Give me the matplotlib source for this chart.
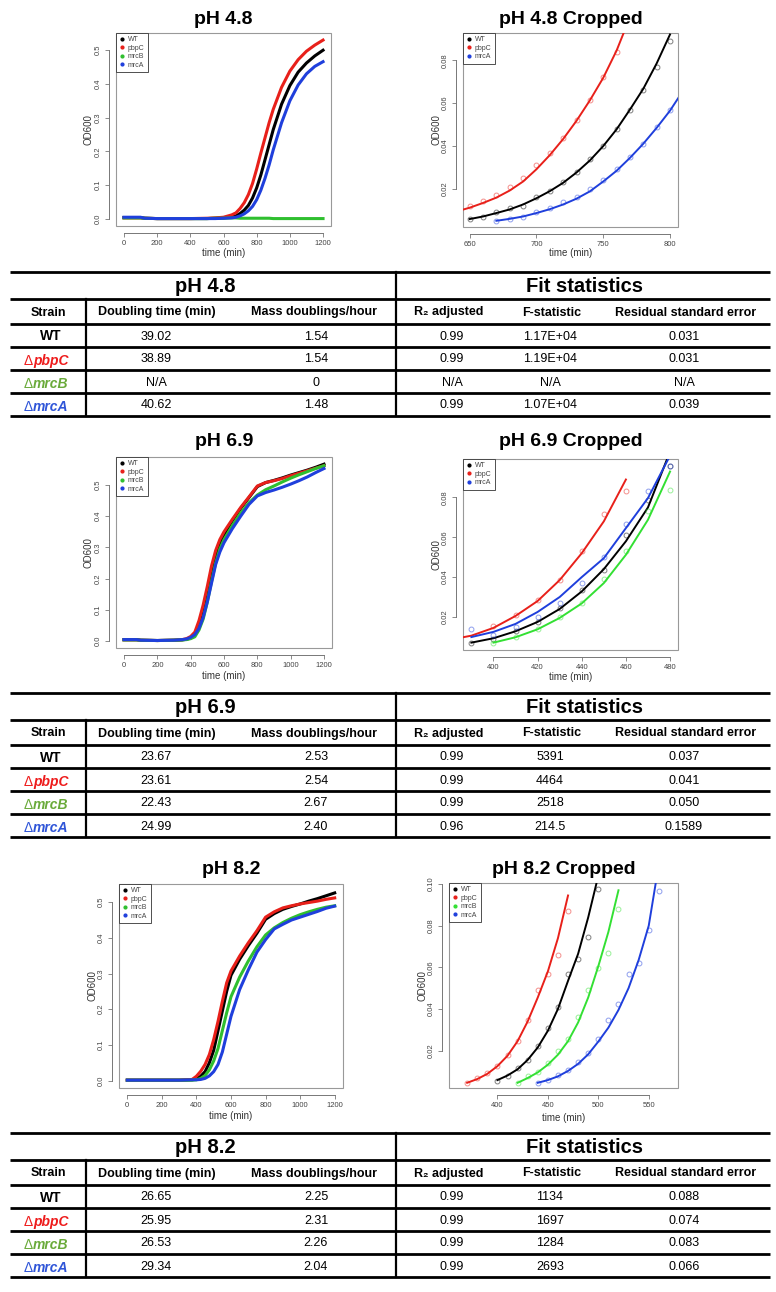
import matplotlib
matplotlib.use('Agg')
import matplotlib.pyplot as plt
from matplotlib.lines import Line2D
from matplotlib.patches import Rectangle

plt.rcParams['font.family'] = ['Liberation Sans', 'DejaVu Sans']

W, H = 776, 1292
strains = ['WT', 'pbpC', 'mrcB', 'mrcA']
colors = {'WT': 'black', 'pbpC': '#e8201a', 'mrcB': '#2fbf2f', 'mrcA': '#1f3fdc'}
crop_colors = {'WT': 'black', 'pbpC': '#e8201a', 'mrcB': '#33e033', 'mrcA': '#1f3fdc'}
name_colors = {'WT': 'black', 'pbpC': '#ee1c1c', 'mrcB': '#6aaa3a', 'mrcA': '#2f55d8'}

# ---- pH 4.8 full curves ----
t48 = [0, 100, 125, 200, 300, 400, 500, 550, 600, 650, 675, 700, 725, 750, 775,
       800, 825, 850, 875, 900, 950, 1000, 1050, 1100, 1150, 1200]
od48 = {
    'WT':   [0.004, 0.004, 0.002, 0.001, 0.001, 0.001, 0.001, 0.002, 0.003, 0.006, 0.009, 0.016, 0.026,
             0.040, 0.062, 0.092, 0.130, 0.175, 0.220, 0.265, 0.340, 0.395, 0.435, 0.462, 0.483, 0.500],
    'pbpC': [0.003, 0.003, 0.002, 0.001, 0.001, 0.001, 0.002, 0.003, 0.005, 0.012, 0.018, 0.031, 0.048,
             0.072, 0.105, 0.148, 0.195, 0.240, 0.285, 0.325, 0.390, 0.438, 0.472, 0.497, 0.515, 0.530],
    'mrcB': [0.003, 0.003, 0.002, 0.001, 0.001, 0.001, 0.001, 0.002, 0.002, 0.003, 0.003, 0.002, 0.002,
             0.002, 0.002, 0.002, 0.002, 0.002, 0.002, 0.001, 0.001, 0.001, 0.001, 0.001, 0.001, 0.001],
    'mrcA': [0.005, 0.005, 0.002, 0.001, 0.001, 0.001, 0.001, 0.001, 0.002, 0.003, 0.005, 0.009, 0.015,
             0.024, 0.037, 0.057, 0.085, 0.120, 0.160, 0.205, 0.285, 0.350, 0.397, 0.430, 0.452, 0.466],
}

# ---- pH 4.8 cropped (points + fits) ----
c48_pts_t = {'WT': [650, 660, 670, 680, 690, 700, 710, 720, 730, 740, 750, 760, 770, 780, 790, 800],
             'pbpC': [650, 660, 670, 680, 690, 700, 710, 720, 730, 740, 750, 760],
             'mrcA': [670, 680, 690, 700, 710, 720, 730, 740, 750, 760, 770, 780, 790, 800]}
c48_pts = {'WT': [0.0059, 0.0070, 0.0091, 0.0111, 0.0120, 0.0161, 0.0189, 0.0231, 0.0280, 0.0341,
                  0.0400, 0.0480, 0.0570, 0.0661, 0.0770, 0.0890],
           'pbpC': [0.0122, 0.0142, 0.0172, 0.0211, 0.0250, 0.0311, 0.0370, 0.0440, 0.0523, 0.0614,
                    0.0720, 0.0840],
           'mrcA': [0.0052, 0.0059, 0.0070, 0.0091, 0.0111, 0.0141, 0.0161, 0.0202, 0.0241, 0.0291,
                    0.0350, 0.0409, 0.0489, 0.0570]}
c48_fit_t = {'WT': [650, 660, 670, 680, 690, 700, 710, 720, 730, 740, 750, 760, 770, 780, 790, 800],
             'pbpC': [640, 650, 660, 670, 680, 690, 700, 710, 720, 730, 740, 750, 760, 770],
             'mrcA': [670, 680, 690, 700, 710, 720, 730, 740, 750, 760, 770, 780, 790, 800, 810]}
c48_fit = {'WT': [0.0060, 0.0072, 0.0088, 0.0105, 0.0128, 0.0157, 0.0190, 0.0229, 0.0277, 0.0333,
                  0.0400, 0.0478, 0.0570, 0.0667, 0.0785, 0.0920],
           'pbpC': [0.0095, 0.0113, 0.0135, 0.0160, 0.0193, 0.0235, 0.0292, 0.0358, 0.0433, 0.0518,
                    0.0613, 0.0718, 0.0845, 0.1000],
           'mrcA': [0.0052, 0.0061, 0.0072, 0.0088, 0.0106, 0.0128, 0.0155, 0.0189, 0.0235, 0.0285,
                    0.0345, 0.0411, 0.0485, 0.0565, 0.0660]}

# ---- pH 6.9 full curves ----
t69 = [0, 75, 100, 200, 300, 350, 375, 400, 425, 450, 475, 500, 525, 550, 575, 600, 650, 700,
       750, 800, 850, 900, 950, 1000, 1050, 1100, 1150, 1200]
od69 = {
    'WT':   [0.004, 0.004, 0.002, 0.001, 0.002, 0.003, 0.005, 0.009, 0.018, 0.044, 0.085, 0.140, 0.205, 0.265,
             0.310, 0.340, 0.385, 0.425, 0.460, 0.495, 0.508, 0.515, 0.523, 0.532, 0.540, 0.548, 0.557, 0.567],
    'pbpC': [0.003, 0.003, 0.002, 0.001, 0.002, 0.004, 0.007, 0.014, 0.028, 0.065, 0.115, 0.175, 0.240, 0.290,
             0.325, 0.350, 0.390, 0.428, 0.462, 0.497, 0.508, 0.514, 0.521, 0.530, 0.538, 0.546, 0.554, 0.562],
    'mrcB': [0.003, 0.003, 0.002, 0.001, 0.002, 0.003, 0.004, 0.007, 0.013, 0.035, 0.070, 0.125, 0.190, 0.250,
             0.295, 0.325, 0.370, 0.410, 0.443, 0.468, 0.485, 0.497, 0.510, 0.522, 0.533, 0.543, 0.553, 0.562],
    'mrcA': [0.004, 0.004, 0.002, 0.001, 0.002, 0.004, 0.006, 0.011, 0.020, 0.040, 0.075, 0.125, 0.185, 0.245,
             0.285, 0.315, 0.360, 0.400, 0.438, 0.465, 0.476, 0.484, 0.493, 0.503, 0.514, 0.526, 0.540, 0.553],
}

# ---- pH 6.9 cropped ----
c69_pts_t = {'WT': [390, 400, 410, 420, 430, 440, 450, 460, 470, 480],
             'pbpC': [400, 410, 420, 430, 440, 450, 460],
             'mrcB': [400, 410, 420, 430, 440, 450, 460, 470, 480],
             'mrcA': [390, 400, 410, 420, 430, 440, 450, 460, 470, 480]}
c69_pts = {'WT': [0.0071, 0.0091, 0.0131, 0.0176, 0.0244, 0.0334, 0.0437, 0.0609, 0.0788, 0.0957],
           'pbpC': [0.0156, 0.0212, 0.0284, 0.0387, 0.0529, 0.0718, 0.0830],
           'mrcB': [0.0071, 0.0099, 0.0141, 0.0200, 0.0272, 0.0392, 0.0529, 0.0730, 0.0838],
           'mrcA': [0.0141, 0.0111, 0.0150, 0.0200, 0.0272, 0.0371, 0.0499, 0.0668, 0.0830, 0.0959]}
c69_fit_t = {'WT': [390, 400, 410, 420, 430, 440, 450, 460, 470, 480],
             'pbpC': [380, 390, 400, 410, 420, 430, 440, 450, 460],
             'mrcB': [400, 410, 420, 430, 440, 450, 460, 470, 480],
             'mrcA': [390, 400, 410, 420, 430, 440, 450, 460, 470, 480]}
c69_fit = {'WT': [0.0071, 0.0093, 0.0128, 0.0175, 0.0240, 0.0328, 0.0440, 0.0580, 0.0750, 0.1030],
           'pbpC': [0.0085, 0.0106, 0.0145, 0.0205, 0.0280, 0.0385, 0.0520, 0.0680, 0.0890],
           'mrcB': [0.0071, 0.0098, 0.0138, 0.0195, 0.0268, 0.0370, 0.0512, 0.0688, 0.0930],
           'mrcA': [0.0099, 0.0125, 0.0165, 0.0225, 0.0300, 0.0400, 0.0495, 0.0646, 0.0797, 0.1010]}

# ---- pH 8.2 full curves ----
t82 = [0, 100, 200, 300, 375, 400, 425, 450, 475, 500, 525, 550, 575, 600, 650, 700, 750, 800,
       850, 900, 950, 1000, 1050, 1100, 1150, 1200]
od82 = {
    'WT':   [0.001, 0.001, 0.001, 0.001, 0.002, 0.004, 0.012, 0.025, 0.050, 0.085, 0.140, 0.195, 0.250,
             0.295, 0.340, 0.378, 0.413, 0.452, 0.468, 0.480, 0.488, 0.495, 0.503, 0.510, 0.518, 0.526],
    'pbpC': [0.001, 0.001, 0.001, 0.001, 0.003, 0.012, 0.026, 0.045, 0.073, 0.115, 0.166, 0.222, 0.274,
             0.307, 0.349, 0.386, 0.420, 0.458, 0.473, 0.484, 0.490, 0.495, 0.499, 0.503, 0.508, 0.512],
    'mrcB': [0.001, 0.001, 0.001, 0.001, 0.001, 0.002, 0.006, 0.014, 0.030, 0.055, 0.090, 0.140, 0.190,
             0.235, 0.290, 0.335, 0.375, 0.408, 0.428, 0.443, 0.455, 0.465, 0.473, 0.480, 0.486, 0.490],
    'mrcA': [0.001, 0.001, 0.001, 0.001, 0.002, 0.002, 0.003, 0.006, 0.013, 0.025, 0.045, 0.080, 0.130,
             0.180, 0.255, 0.310, 0.360, 0.395, 0.425, 0.438, 0.450, 0.458, 0.466, 0.474, 0.483, 0.489],
}

# ---- pH 8.2 cropped ----
c82_t = {'WT': [400, 410, 420, 430, 440, 450, 460, 470, 480, 490, 500],
         'pbpC': [370, 380, 390, 400, 410, 420, 430, 440, 450, 460, 470],
         'mrcB': [420, 430, 440, 450, 460, 470, 480, 490, 500, 510, 520],
         'mrcA': [440, 450, 460, 470, 480, 490, 500, 510, 520, 530, 540, 550, 560]}
c82_pts = {'WT': [0.0056, 0.0078, 0.0118, 0.0156, 0.0220, 0.0308, 0.0407, 0.0567, 0.0638, 0.0747, 0.0976],
           'pbpC': [0.0045, 0.0066, 0.0094, 0.0128, 0.0177, 0.0246, 0.0347, 0.0490, 0.0567, 0.0657, 0.0870],
           'mrcB': [0.0045, 0.0078, 0.0096, 0.0138, 0.0197, 0.0257, 0.0360, 0.0489, 0.0597, 0.0669, 0.0878],
           'mrcA': [0.0045, 0.0058, 0.0081, 0.0105, 0.0143, 0.0187, 0.0257, 0.0347, 0.0425, 0.0567, 0.0620,
                    0.0780, 0.0967]}
c82_fit = {'WT': [0.0058, 0.0080, 0.0110, 0.0155, 0.0215, 0.0295, 0.0400, 0.0535, 0.0665, 0.0840, 0.1040],
           'pbpC': [0.0045, 0.0063, 0.0088, 0.0125, 0.0175, 0.0245, 0.0340, 0.0455, 0.0580, 0.0740, 0.0945],
           'mrcB': [0.0045, 0.0068, 0.0095, 0.0132, 0.0180, 0.0245, 0.0335, 0.0455, 0.0605, 0.0770, 0.0970],
           'mrcA': [0.0045, 0.0058, 0.0076, 0.0102, 0.0136, 0.0182, 0.0243, 0.0310, 0.0395, 0.0500, 0.0635,
                    0.0800, 0.1095]}

# ---- tables ----
tab_strains = ['WT', 'pbpC', 'mrcB', 'mrcA']
tab48 = {'doubling': ['39.02', '38.89', 'N/A', '40.62'], 'mass': ['1.54', '1.54', '0', '1.48'],
         'r2': ['0.99', '0.99', 'N/A', '0.99'], 'f': ['1.17E+04', '1.19E+04', 'N/A', '1.07E+04'],
         'rse': ['0.031', '0.031', 'N/A', '0.039']}
tab69 = {'doubling': ['23.67', '23.61', '22.43', '24.99'], 'mass': ['2.53', '2.54', '2.67', '2.40'],
         'r2': ['0.99', '0.99', '0.99', '0.96'], 'f': ['5391', '4464', '2518', '214.5'],
         'rse': ['0.037', '0.041', '0.050', '0.1589']}
tab82 = {'doubling': ['26.65', '25.95', '26.53', '29.34'], 'mass': ['2.25', '2.31', '2.26', '2.04'],
         'r2': ['0.99', '0.99', '0.99', '0.99'], 'f': ['1134', '1697', '1284', '2693'],
         'rse': ['0.088', '0.074', '0.083', '0.066']}

fig = plt.figure(figsize=(W / 100, H / 100), dpi=100)
over = fig.add_axes([0, 0, 1, 1])
over.set_xlim(0, W)
over.set_ylim(H, 0)
over.axis('off')


def box(l, t, r, b):
    return [l / W, 1 - b / H, (r - l) / W, (b - t) / H]


def r_axes(rect, xlim, ylim, xticks, yticks, yfmt):
    ax = fig.add_axes(box(*rect))
    ax.set_xlim(xlim)
    ax.set_ylim(ylim)
    for s in ['top', 'right']:
        ax.spines[s].set_visible(False)
    for s in ['bottom', 'left']:
        ax.spines[s].set_position(('outward', 5))
        ax.spines[s].set_color('#777777')
        ax.spines[s].set_linewidth(0.7)
    ax.spines['bottom'].set_bounds(xticks[0], xticks[-1])
    ax.spines['left'].set_bounds(yticks[0], yticks[-1])
    ax.set_xticks(xticks)
    ax.set_xticklabels([str(v) for v in xticks])
    ax.set_yticks(yticks)
    ax.set_yticklabels([yfmt % v for v in yticks], rotation=90, va='center')
    ax.tick_params(length=3, width=0.6, color='#777777', labelsize=5.5, labelcolor='#444444', pad=2)
    ax.add_patch(Rectangle((0, 0), 1, 1, transform=ax.transAxes, fill=False,
                           ec='#999999', lw=0.8, clip_on=False))
    return ax


def r_legend(ax, names, cdict):
    handles = [Line2D([], [], ls='none', marker='o', ms=2, color=cdict[n]) for n in names]
    leg = ax.legend(handles, names, loc='upper left', borderaxespad=0, fontsize=5,
                    handlelength=0.6, handletextpad=0.6, borderpad=0.5, labelspacing=0.2,
                    fancybox=False, framealpha=1, edgecolor='#333333')
    leg.get_frame().set_linewidth(0.6)
    for t in leg.get_texts():
        t.set_color('#444444')


def labels(rect, title, ty, xly, ylx):
    l, t, r, b = rect
    over.text((l + r) / 2, ty, title, ha='center', va='center', fontsize=14, fontweight='bold')
    over.text((l + r) / 2, xly, 'time (min)', ha='center', va='center', fontsize=7, color='#333333')
    over.text(ylx, (t + b) / 2, 'OD600', ha='center', va='center', fontsize=7,
              color='#333333', rotation=90)


def full_plot(rect, t, od, ylim, title, ty, xly, ylx):
    ax = r_axes(rect, (-48, 1248), ylim, [0, 200, 400, 600, 800, 1000, 1200],
                [0.0, 0.1, 0.2, 0.3, 0.4, 0.5], '%.1f')
    for s in strains:
        ax.plot(t, od[s], color=colors[s], lw=2.2)
    r_legend(ax, strains, colors)
    labels(rect, title, ty, xly, ylx)


def crop_plot(rect, xlim, ylim, xticks, yticks, pts_t, pts, fit_t, fit, names, legend_names,
              title, ty, xly, ylx):
    ax = r_axes(rect, xlim, ylim, xticks, yticks, '%.2f')
    for s in names:
        ax.plot(pts_t[s], pts[s], ls='none', marker='o', mfc='none', mec=crop_colors[s],
                ms=3.5, mew=0.7, alpha=0.5)
        ax.plot(fit_t[s], fit[s], color=crop_colors[s], lw=1.4)
    r_legend(ax, legend_names, crop_colors)
    labels(rect, title, ty, xly, ylx)


full_plot((116, 33, 331, 226), t48, od48, (-0.021, 0.551), 'pH 4.8', 20, 253, 88)
crop_plot((463, 33, 678, 227), (645, 806), (0.0023, 0.0927), [650, 700, 750, 800],
          [0.02, 0.04, 0.06, 0.08], c48_pts_t, c48_pts, c48_fit_t, c48_fit,
          ['WT', 'pbpC', 'mrcA'], ['WT', 'pbpC', 'mrcA'], 'pH 4.8 Cropped', 19, 253, 437)

full_plot((116, 457, 332, 648), t69, od69, (-0.023, 0.59), 'pH 6.9', 442, 676, 88)
crop_plot((463, 459, 678, 650), (386.2, 483.6), (0.0034, 0.0993), [400, 420, 440, 460, 480],
          [0.02, 0.04, 0.06, 0.08], c69_pts_t, c69_pts, c69_fit_t, c69_fit,
          ['WT', 'pbpC', 'mrcB', 'mrcA'], ['WT', 'pbpC', 'mrcA'], 'pH 6.9 Cropped', 442, 677, 436)

full_plot((119, 884, 343, 1088), t82, od82, (-0.021, 0.551), 'pH 8.2', 870, 1116, 93)
crop_plot((449, 883, 678, 1088), (352, 579), (0.002, 0.1005), [400, 450, 500, 550],
          [0.02, 0.04, 0.06, 0.08, 0.10], c82_t, c82_pts, c82_t, c82_fit,
          ['WT', 'pbpC', 'mrcB', 'mrcA'], strains, 'pH 8.2 Cropped', 870, 1118, 423)


def draw_table(T, title, tab):
    ys = [T, T + 27, T + 52, T + 75, T + 98, T + 121, T + 144]
    for y in ys:
        over.plot([10, 770], [y, y], color='black', lw=2.0, solid_capstyle='butt')
    over.plot([86, 86], [ys[1], ys[-1]], color='black', lw=1.6)
    over.plot([396, 396], [ys[0], ys[-1]], color='black', lw=1.6)
    ym = (ys[0] + ys[1]) / 2 + 1
    over.text(205, ym, title, ha='center', va='center', fontsize=14.5, fontweight='bold')
    over.text(584, ym, 'Fit statistics', ha='center', va='center', fontsize=14.5, fontweight='bold')
    hy = (ys[1] + ys[2]) / 2 + 1
    heads = [(48, 'Strain'), (157, 'Doubling time (min)'), (314, 'Mass doublings/hour'),
             (449, 'R₂ adjusted'), (552, 'F-statistic'), (686, 'Residual standard error')]
    for x, h in heads:
        over.text(x, hy, h, ha='center', va='center', fontsize=9, fontweight='bold')
    cols = [(156, 'doubling'), (316, 'mass'), (452, 'r2'), (550, 'f'), (684, 'rse')]
    for i, s in enumerate(tab_strains):
        ry = (ys[i + 2] + ys[i + 3]) / 2 + 1
        if s == 'WT':
            over.text(51, ry, s, ha='center', va='center', fontsize=10, fontweight='bold')
        else:
            over.text(33, ry, 'Δ', ha='right', va='center_baseline', fontsize=10, color=name_colors[s])
            over.text(33, ry, s, ha='left', va='center_baseline', fontsize=10, fontweight='bold',
                      fontstyle='italic', color=name_colors[s])
        for x, key in cols:
            over.text(x, ry, tab[key][i], ha='center', va='center', fontsize=9)


draw_table(272, 'pH 4.8', tab48)
draw_table(693, 'pH 6.9', tab69)
draw_table(1133, 'pH 8.2', tab82)

fig.savefig('out.png', dpi=100)
